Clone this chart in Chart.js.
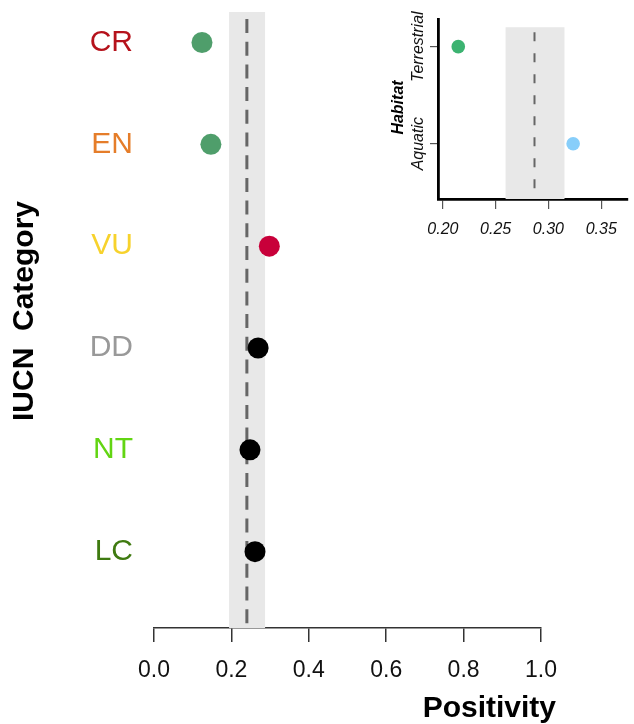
<!DOCTYPE html>
<html>
<head>
<meta charset="utf-8">
<script src="https://cdn.jsdelivr.net/npm/chart.js@4"></script>
<style>
  body { margin: 0; background: #fff; }
  #wrap { position: relative; width: 634px; height: 724px; }
  #mainChart { position: absolute; left: 0; top: 0; }
  #insetChart { position: absolute; left: 380px; top: 0; }
</style>
</head>
<body>
<div id="wrap">
  <canvas id="mainChart" width="634" height="724"></canvas>
  <canvas id="insetChart" width="254" height="250"></canvas>
</div>
<script>
// IUCN categories (top to bottom) and their positivity
const categories = ["CR", "EN", "VU", "DD", "NT", "LC"];
const positivity = [0.124, 0.147, 0.298, 0.269, 0.248, 0.261];
const pointColors = ["#4f9e6b", "#4f9e6b", "#c8003a", "#000000", "#000000", "#000000"];
const labelColors = ["#b5121b", "#e57d2a", "#f7d22c", "#999999", "#62d512", "#3f7a10"];
const xTicks = [0, 0.2, 0.4, 0.6, 0.8, 1.0];
// overall mean and interval
const overallMean = 0.240;
const overallBand = [0.194, 0.287];

// habitat inset
const habitats = ["Terrestrial", "Aquatic"];
const habitatPositivity = [0.2146, 0.3234];
const habitatColors = ["#3cb371", "#87cefa"];
const habitatTicks = [0.20, 0.25, 0.30, 0.35];
const habitatMean = 0.2868;
const habitatBand = [0.2594, 0.3152];

const FONT = "'Liberation Sans', Arial, Helvetica, sans-serif";

// grey interval band + dashed mean line, drawn through the chart scales
const bandPlugin = {
  id: "band",
  beforeDatasetsDraw(chart, args, opts) {
    const { ctx, chartArea, scales } = chart;
    const x0 = scales.x.getPixelForValue(opts.lo);
    const x1 = scales.x.getPixelForValue(opts.hi);
    const xm = scales.x.getPixelForValue(opts.mid);
    const yTop = scales.y.getPixelForValue(opts.top);
    ctx.save();
    ctx.fillStyle = "#e8e8e8";
    ctx.fillRect(x0, yTop, x1 - x0, chartArea.bottom - yTop);
    ctx.strokeStyle = opts.lineColor;
    ctx.lineWidth = opts.lineWidth;
    ctx.setLineDash(opts.dash);
    ctx.lineDashOffset = opts.dashOffset || 0;
    ctx.beginPath();
    ctx.moveTo(xm, yTop);
    ctx.lineTo(xm, chartArea.bottom);
    ctx.stroke();
    ctx.restore();
  }
};

// axis titles placed like the R original
const titlesPlugin = {
  id: "titles",
  afterDraw(chart, args, opts) {
    const ctx = chart.ctx;
    ctx.save();
    ctx.fillStyle = "#000";
    ctx.font = opts.font;
    if (opts.xTitle) {
      ctx.textAlign = "right";
      ctx.textBaseline = "alphabetic";
      ctx.fillText(opts.xTitle, opts.xAt[0], opts.xAt[1]);
    }
    ctx.translate(opts.yAt[0], opts.yAt[1]);
    ctx.rotate(-Math.PI / 2);
    ctx.textAlign = "center";
    ctx.textBaseline = "alphabetic";
    ctx.fillText(opts.yTitle, 0, 0);
    ctx.restore();
  }
};

const noPad = s => { s.paddingTop = 0; s.paddingBottom = 0; s.paddingLeft = 0; s.paddingRight = 0; };

const mainChart = new Chart(document.getElementById("mainChart"), {
  type: "scatter",
  data: {
    datasets: [{
      data: categories.map((c, i) => ({ x: positivity[i], y: categories.length - i })),
      pointBackgroundColor: pointColors,
      pointBorderWidth: 0,
      pointRadius: 10.5,
      pointHoverRadius: 10.5,
      clip: false
    }]
  },
  options: {
    responsive: false,
    animation: false,
    layout: { padding: { top: 12, right: 93, left: 0, bottom: 0 } },
    plugins: {
      legend: { display: false },
      tooltip: { enabled: false },
      band: {
        lo: overallBand[0], hi: overallBand[1], mid: overallMean, top: 6.3,
        lineColor: "#666666", lineWidth: 3, dash: [14, 8.7], dashOffset: -7
      },
      titles: {
        font: "bold 30px " + FONT,
        xTitle: "Positivity", xAt: [556, 717],
        yTitle: "IUCN  Category", yAt: [33, 311]
      }
    },
    scales: {
      x: {
        type: "linear",
        min: 0,
        max: 1,
        afterBuildTicks: s => { s.ticks = xTicks.map(v => ({ value: v })); },
        afterFit: s => { s.height = 96; noPad(s); },
        ticks: {
          callback: v => Number(v).toFixed(1),
          font: { family: FONT, size: 23 },
          color: "#111",
          padding: 15,
          maxRotation: 0
        },
        grid: { drawOnChartArea: false, drawTicks: true, tickLength: 14, color: "#333", lineWidth: 1.5 },
        border: { display: true, color: "#333", width: 1.5 }
      },
      y: {
        type: "linear",
        min: 0.25,
        max: 6.3,
        afterBuildTicks: s => { s.ticks = categories.map((c, i) => ({ value: categories.length - i })); },
        afterFit: s => { s.width = 154; noPad(s); },
        ticks: {
          callback: v => categories[categories.length - v],
          color: ctx => labelColors[categories.length - ctx.tick.value],
          font: { family: FONT, size: 30 },
          padding: 21
        },
        grid: { display: false, drawTicks: false },
        border: { display: false }
      }
    }
  },
  plugins: [bandPlugin, titlesPlugin]
});

const insetChart = new Chart(document.getElementById("insetChart"), {
  type: "scatter",
  data: {
    datasets: [{
      data: habitats.map((h, i) => ({ x: habitatPositivity[i], y: habitats.length - i })),
      pointBackgroundColor: habitatColors,
      pointBorderWidth: 0,
      pointRadius: 6.8,
      pointHoverRadius: 6.8,
      clip: false
    }]
  },
  options: {
    responsive: false,
    animation: false,
    layout: { padding: { top: 19, right: 0, left: 0, bottom: 0 } },
    plugins: {
      legend: { display: false },
      tooltip: { enabled: false },
      band: {
        lo: habitatBand[0], hi: habitatBand[1], mid: habitatMean, top: 2.2,
        lineColor: "#666666", lineWidth: 2, dash: [9, 12], dashOffset: -5
      },
      titles: {
        font: "italic bold 16px " + FONT,
        yTitle: "Habitat", yAt: [23, 107.5]
      }
    },
    scales: {
      x: {
        type: "linear",
        min: 0.1954,
        max: 0.3746,
        afterBuildTicks: s => { s.ticks = habitatTicks.map(v => ({ value: v })); },
        afterFit: s => { s.height = 51; noPad(s); },
        ticks: {
          callback: v => Number(v).toFixed(2),
          font: { family: FONT, size: 16, style: "italic" },
          color: "#111",
          padding: 11,
          maxRotation: 0
        },
        grid: { drawOnChartArea: false, drawTicks: true, tickLength: 10, color: "#555", lineWidth: 1.2 },
        border: { display: true, color: "#000", width: 2.8 }
      },
      y: {
        type: "linear",
        min: 0.43,
        max: 2.285,
        afterBuildTicks: s => { s.ticks = habitats.map((h, i) => ({ value: habitats.length - i })); },
        afterFit: s => { s.width = 58; noPad(s); },
        ticks: {
          callback: v => habitats[habitats.length - v],
          font: { family: FONT, size: 16, style: "italic" },
          color: "#111",
          minRotation: 90,
          maxRotation: 90,
          crossAlign: "center",
          padding: -23.5
        },
        grid: { drawOnChartArea: false, drawTicks: true, tickLength: 8, color: "#555", lineWidth: 1.2 },
        border: { display: true, color: "#000", width: 2.8 }
      }
    }
  },
  plugins: [bandPlugin, titlesPlugin]
});
</script>
</body>
</html>
